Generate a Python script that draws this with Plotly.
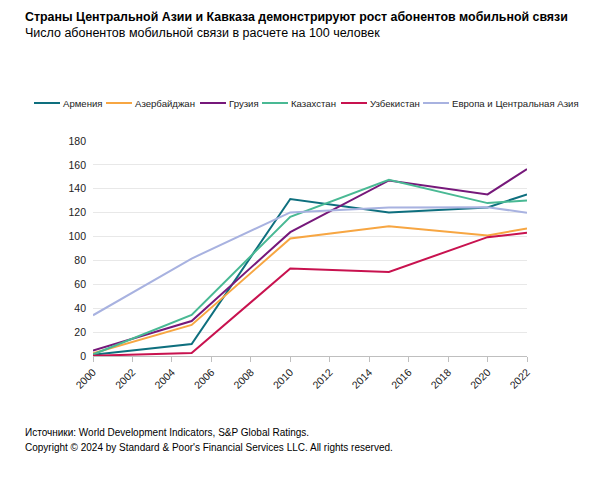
import plotly.graph_objects as go

years = [2000, 2005, 2010, 2015, 2020, 2022]
armenia = [1.0, 10.1, 131.4, 120.2, 124.4, 135.3]
azerbaijan = [2.3, 26.0, 98.4, 108.7, 100.9, 106.8]
georgia = [4.5, 29.3, 103.7, 147.0, 135.3, 156.5]
kazakhstan = [1.3, 34.4, 116.5, 147.6, 128.0, 130.2]
uzbekistan = [0.2, 2.5, 73.2, 70.4, 99.5, 103.1]
europe = [34.1, 81.6, 120.2, 124.4, 124.6, 119.9]

names = ["Армения", "Азербайджан", "Грузия", "Казахстан", "Узбекистан",
         "Европа и Центральная Азия"]
values = [armenia, azerbaijan, georgia, kazakhstan, uzbekistan, europe]
colors = ["#0e6f7e", "#f7a642", "#76187a", "#49b994", "#c8124f", "#a8b2e0"]

tick_years = list(range(2000, 2023, 2))
y_ticks = list(range(0, 181, 20))

FONT = "Liberation Sans, Arial, sans-serif"

# plot area geometry in pixels (for placing texts in paper coords)
L, R, T, B = 93, 73, 141, 134
PW = 600 - L - R
PH = 490 - T - B


def px(x):
    return (x - L) / PW


def py(y):
    return (490 - B - y) / PH


fig = go.Figure()
for name, vals, color in zip(names, values, colors):
    fig.add_trace(go.Scatter(x=years, y=vals, name=name, mode="lines",
                             line=dict(color=color, width=2), showlegend=False))

fig.update_layout(
    width=600, height=490,
    margin=dict(l=L, r=R, t=T, b=B),
    paper_bgcolor="white", plot_bgcolor="white",
    font=dict(family=FONT, size=11, color="#222222"),
    showlegend=False,
    xaxis=dict(range=[2000, 2022], tickvals=tick_years, tickangle=-45,
               showgrid=False, showline=True, linecolor="#bfbfbf", linewidth=1,
               ticks="outside", ticklen=5, tickcolor="#bfbfbf",
               tickfont=dict(size=10.5), zeroline=False, fixedrange=True),
    yaxis=dict(range=[0, 180], tickvals=y_ticks, showgrid=True,
               gridcolor="#e8e8e8", gridwidth=1, showline=False, zeroline=False,
               ticks="", tickfont=dict(size=10.5), ticklabelstandoff=6),
)

# legend drawn as line keys + labels (pixel x where each label starts)
label_x = [61, 133, 227, 289, 368, 450]
legend_y = 103
key_len = 26
for name, color, lx in zip(names, colors, label_x):
    fig.add_shape(type="line", xref="paper", yref="paper",
                  x0=px(lx - key_len - 1), x1=px(lx - 1), y0=py(legend_y), y1=py(legend_y),
                  line=dict(color=color, width=2))
    fig.add_annotation(text=name, xref="paper", yref="paper",
                       x=px(lx), y=py(legend_y),
                       xanchor="left", yanchor="middle", showarrow=False,
                       font=dict(size=9.6, color="#222222"))

texts = [
    ("<b>Страны Центральной Азии и Кавказа демонстрируют рост абонентов мобильной связи</b>", 17, 12.4),
    ("Число абонентов мобильной связи в расчете на 100 человек", 33, 12.5),
    ("Источники: World Development Indicators, S&P Global Ratings.", 432, 10),
    ("Copyright © 2024 by Standard & Poor's Financial Services LLC. All rights reserved.", 447, 10),
]
for t, ypix, size in texts:
    fig.add_annotation(text=t, xref="paper", yref="paper", x=px(23), y=py(ypix),
                       xanchor="left", yanchor="middle", showarrow=False,
                       font=dict(size=size, color="#000000"))

fig.write_html("out.html")
